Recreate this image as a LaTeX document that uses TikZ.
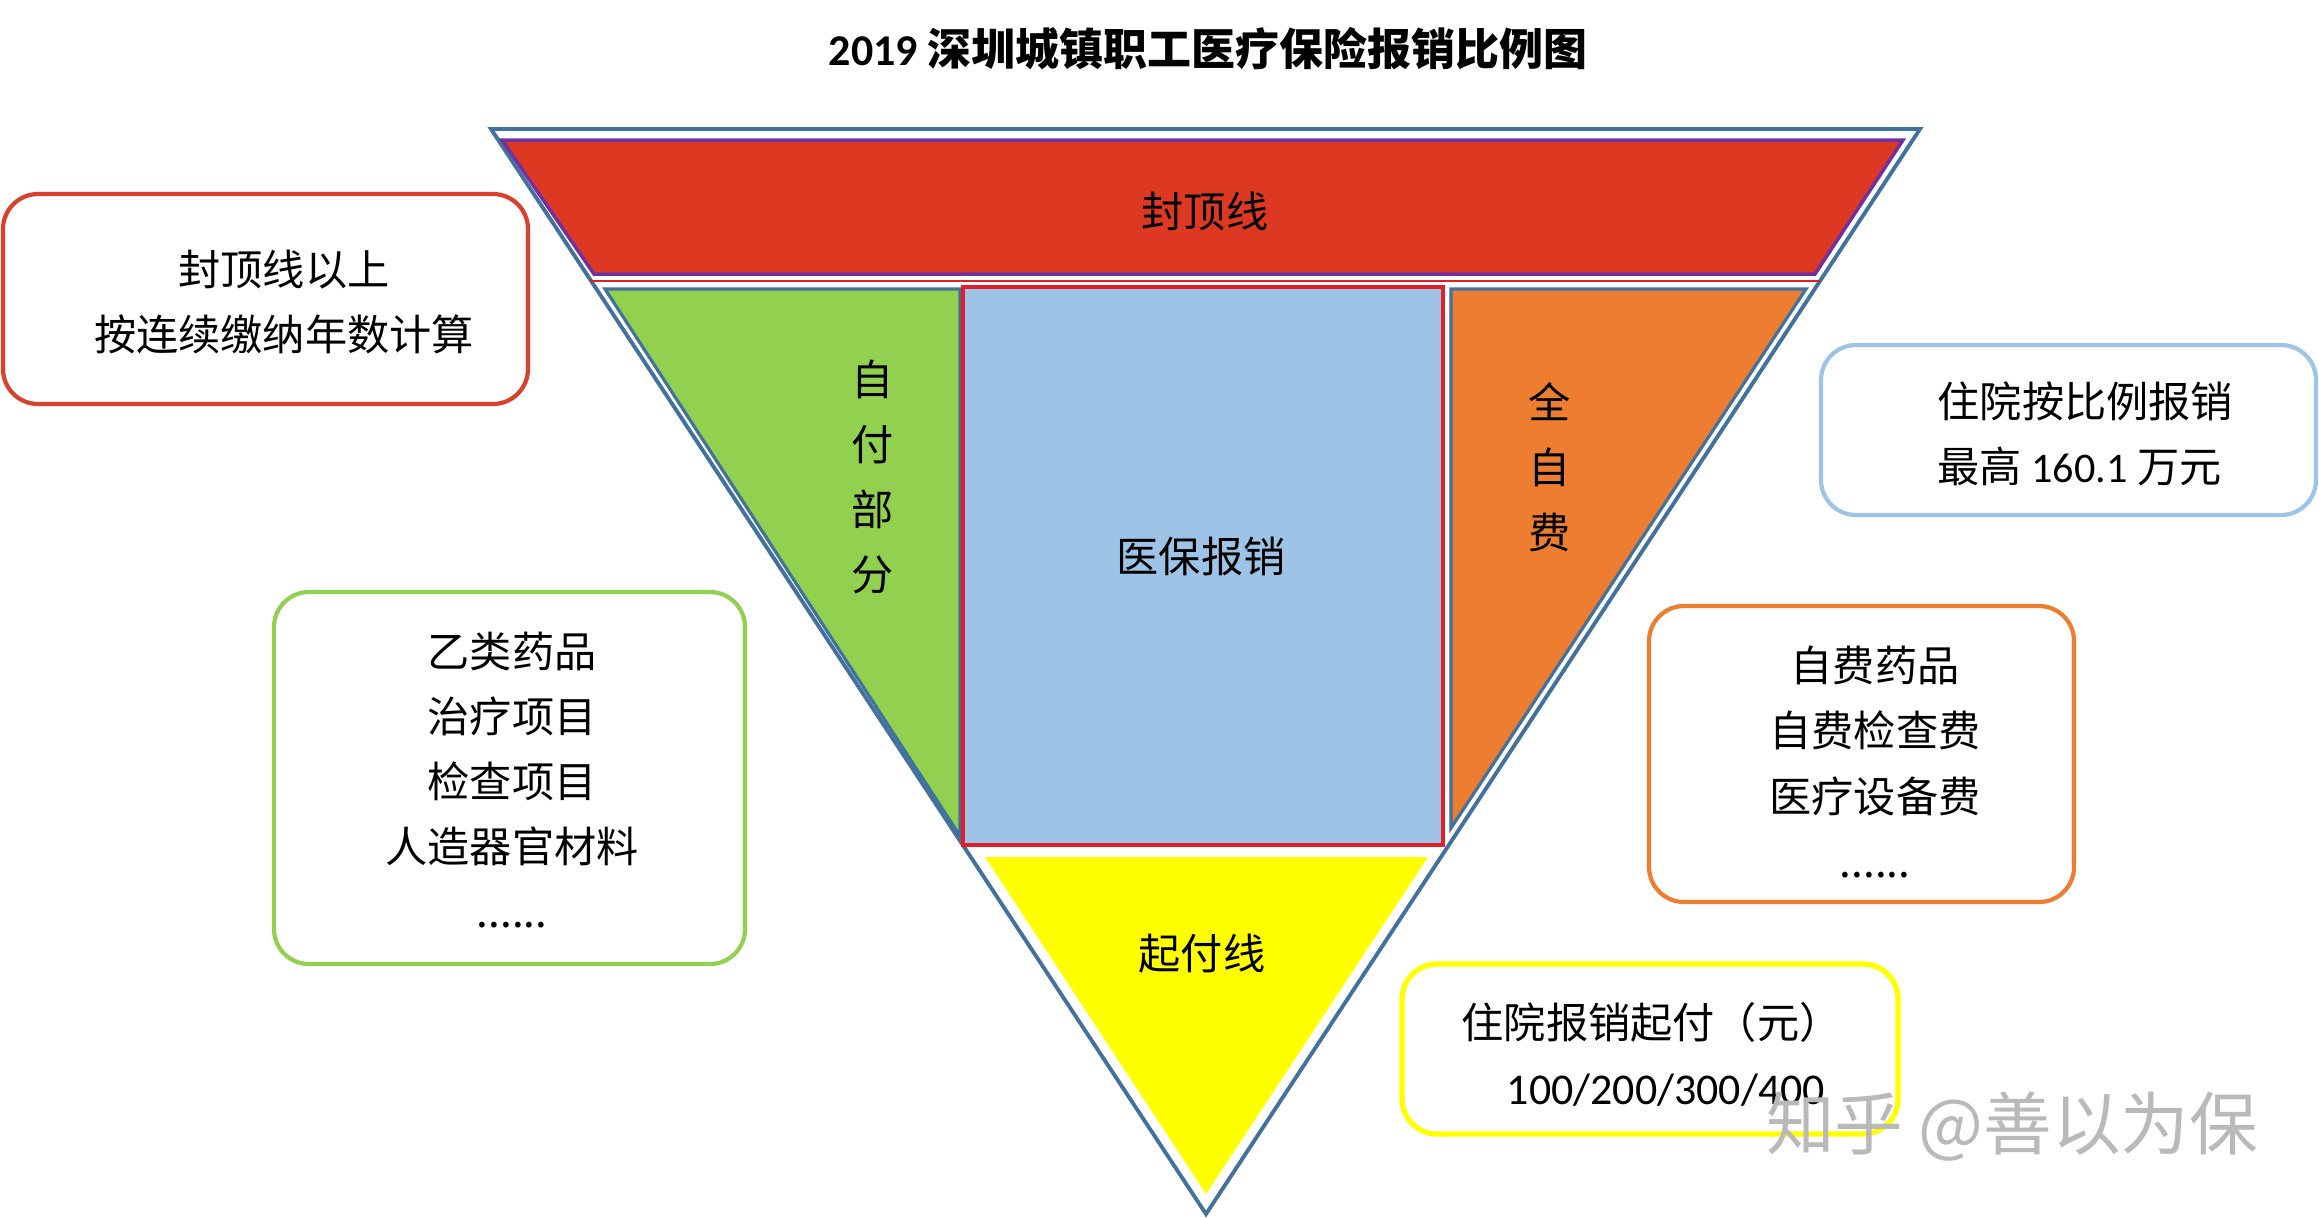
\documentclass[tikz,border=0pt]{standalone}
\usepackage{fontspec}
\setmainfont{Noto Sans CJK SC}
\newfontfamily\latin{Carlito}
\usepackage{tikz}
\definecolor{triblue}{RGB}{65,113,156}
\definecolor{capred}{RGB}{221,57,34}
\definecolor{capviolet}{RGB}{112,48,160}
\definecolor{linered}{RGB}{226,30,38}
\definecolor{selfgreen}{RGB}{146,208,80}
\definecolor{fundblue}{RGB}{157,195,230}
\definecolor{ownorange}{RGB}{237,125,49}
\definecolor{payyellow}{RGB}{255,255,0}
\definecolor{boxred}{RGB}{217,65,47}

\begin{document}
\begin{tikzpicture}[x=0.01cm,y=-0.01cm,
  lbl/.style={font=\fontsize{12}{18.5}\selectfont, align=center, inner sep=0pt},
  infobox/.style={line width=1.2pt, rounded corners=0.35cm}]
  \useasboundingbox (0,0) rectangle (2319,1217);
  \node[font=\bfseries\fontsize{12.5}{15}\selectfont] (title) at (1208,49) {{\latin 2019} 深圳城镇职工医疗保险报销比例图};
  % inverted pyramid
  \draw[line width=1.1pt, triblue] (491,129) -- (1920,129) -- (1206,1214) -- cycle;
  \draw[fill=capred, draw=capviolet, line width=1pt] (502,140) -- (1903,140) -- (1815,274) -- (594,274) -- cycle;
  \draw[line width=0.8pt, linered] (590,281) -- (1820,281);
  \draw[fill=selfgreen, draw=triblue, line width=0.9pt] (605,289) -- (960,289) -- (960,836) -- cycle;
  \draw[fill=fundblue, draw=linered, line width=1.3pt] (963,287) rectangle (1443,845);
  \draw[fill=ownorange, draw=triblue, line width=0.9pt] (1451,289) -- (1806,289) -- (1451,828) -- cycle;
  \fill[payyellow] (985,857) -- (1428,857) -- (1206,1194) -- cycle;
  \node[lbl] (cap) at (1205,211) {封顶线};
  \node[lbl] (self) at (873,477) {自\\付\\部\\分};
  \node[lbl] (fund) at (1201,556) {医保报销};
  \node[lbl] (own) at (1550,467) {全\\自\\费};
  \node[lbl] (pay) at (1202,954) {起付线};
  % side notes
  \draw[infobox, boxred] (3,194) rectangle (528,404);
  \node[lbl] (captxt) at (284,302) {封顶线以上\\按连续缴纳年数计算};
  \draw[infobox, selfgreen] (274,592) rectangle (745,964);
  \node[lbl] (selftxt) at (512,780) {乙类药品\\治疗项目\\检查项目\\人造器官材料\\......};
  \draw[infobox, fundblue] (1821,345) rectangle (2316,515);
  \node[lbl, align=left, anchor=west] (fundtxt) at (1937,434) {住院按比例报销\\最高 {\latin 160.1} 万元};
  \draw[infobox, ownorange] (1649,606) rectangle (2074,902);
  \node[lbl] (owntxt) at (1875,762) {自费药品\\自费检查费\\医疗设备费\\......};
  \draw[infobox, payyellow, line width=1.5pt] (1402,964) rectangle (1898,1134);
  \node[lbl, anchor=west] (paytxt) at (1461,1022) {住院报销起付（元）};
  \node[lbl, anchor=west, font=\latin\fontsize{12.5}{15}\selectfont] (paynum) at (1506,1090) {100/200/300/400};
  \node[text=gray!55, font=\fontsize{19.5}{20}\selectfont] (mark) at (2012,1127) {知乎 @善以为保};
\end{tikzpicture}
\end{document}
